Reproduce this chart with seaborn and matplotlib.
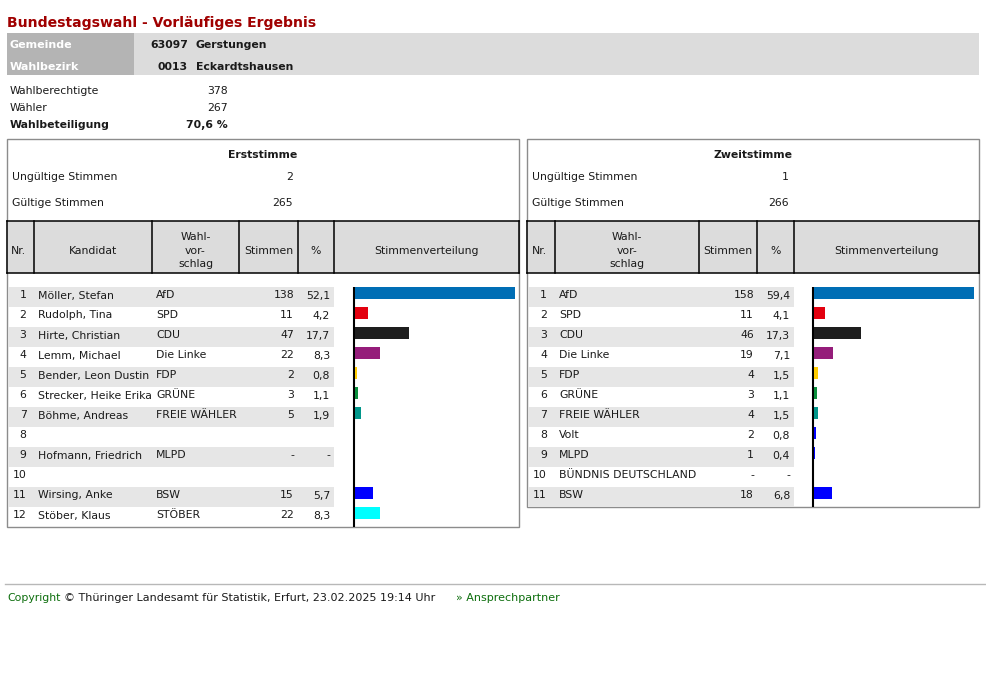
import matplotlib
matplotlib.use("Agg")
import matplotlib.pyplot as plt
from matplotlib.patches import Rectangle
import pandas as pd
import seaborn as sns

# ===== Daten =====
titel = "Bundestagswahl - Vorläufiges Ergebnis"
gemeinde_nr, gemeinde_name = "63097", "Gerstungen"
bezirk_nr, bezirk_name = "0013", "Eckardtshausen"
wahlberechtigte = 378
waehler = 267
wahlbeteiligung = 70.6

erst_ungueltig, erst_gueltig = 2, 265
zweit_ungueltig, zweit_gueltig = 1, 266

erst_kandidat = ["Möller, Stefan", "Rudolph, Tina", "Hirte, Christian", "Lemm, Michael",
                 "Bender, Leon Dustin", "Strecker, Heike Erika", "Böhme, Andreas", "",
                 "Hofmann, Friedrich", "", "Wirsing, Anke", "Stöber, Klaus"]
erst_partei = ["AfD", "SPD", "CDU", "Die Linke", "FDP", "GRÜNE", "FREIE WÄHLER", "",
               "MLPD", "", "BSW", "STÖBER"]
erst_stimmen = [138, 11, 47, 22, 2, 3, 5, None, None, None, 15, 22]
erst_prozent = [52.1, 4.2, 17.7, 8.3, 0.8, 1.1, 1.9, None, None, None, 5.7, 8.3]

zweit_partei = ["AfD", "SPD", "CDU", "Die Linke", "FDP", "GRÜNE", "FREIE WÄHLER", "Volt",
                "MLPD", "BÜNDNIS DEUTSCHLAND", "BSW"]
zweit_stimmen = [158, 11, 46, 19, 4, 3, 4, 2, 1, None, 18]
zweit_prozent = [59.4, 4.1, 17.3, 7.1, 1.5, 1.1, 1.5, 0.8, 0.4, None, 6.8]

partei_farben = {"AfD": "#006eb5", "SPD": "#e3000f", "CDU": "#1e1e1e", "Die Linke": "#951d7a",
                 "FDP": "#ffcc00", "GRÜNE": "#0a8f3c", "FREIE WÄHLER": "#00968a",
                 "Volt": "#0000ff", "MLPD": "#0000ff", "BÜNDNIS DEUTSCHLAND": "#0000ff",
                 "BSW": "#0000ff", "STÖBER": "#00ffff", "": "#ffffff"}

copyright_text = "© Thüringer Landesamt für Statistik, Erfurt, 23.02.2025 19:14 Uhr"

# ===== Layout =====
W, H = 986, 675
FS = 7.8
TXT = "#1a1a1a"
GRUEN = "#0d6e0d"

fig = plt.figure(figsize=(W / 100, H / 100), dpi=100)
bg = fig.add_axes([0, 0, 1, 1])
bg.set_xlim(0, W)
bg.set_ylim(H, 0)
bg.axis("off")


def txt(x, y, s, ha="left", bold=False, color=TXT, size=FS):
    bg.text(x, y, s, ha=ha, va="baseline", fontsize=size, color=color,
            fontweight="bold" if bold else "normal")


def rect(x0, y0, x1, y1, fc, ec="none", lw=0.0):
    bg.add_patch(Rectangle((x0, y0), x1 - x0, y1 - y0, facecolor=fc, edgecolor=ec, linewidth=lw))


def de(v, nd=1):
    return f"{v:.{nd}f}".replace(".", ",")


# Kopf
txt(7, 26.5, titel, bold=True, color="#a00000", size=10.05)
rect(7, 33, 134, 75, "#b4b4b4")
rect(134, 33, 979, 75, "#dcdcdc")
txt(10, 48.5, "Gemeinde", bold=True, color="white", size=8.0)
txt(10, 69.5, "Wahlbezirk", bold=True, color="white", size=8.0)
txt(188, 48.5, gemeinde_nr, ha="right", bold=True)
txt(196, 48.5, gemeinde_name, bold=True)
txt(188, 69.5, bezirk_nr, ha="right", bold=True)
txt(196, 69.5, bezirk_name, bold=True)

txt(10, 94.3, "Wahlberechtigte")
txt(228, 94.3, str(wahlberechtigte), ha="right")
txt(10, 111, "Wähler")
txt(228, 111, str(waehler), ha="right")
txt(10, 128.3, "Wahlbeteiligung", bold=True)
txt(228, 128.3, de(wahlbeteiligung) + " %", ha="right", bold=True)


def tabelle(x0, x1, y1, name, ungueltig, gueltig, val_x, cols, kopf, stripe_x1,
            nr_x, spalten, zeilen, line_x, prozent, parteien):
    rect(x0, 139, x1, y1, "white", ec="#8c8c8c", lw=1.0)
    txt((x0 + x1) / 2, 158, name, ha="center", bold=True)
    txt(x0 + 4.5, 180.5, "Ungültige Stimmen")
    txt(val_x, 180.5, str(ungueltig), ha="right")
    txt(x0 + 4.5, 206.5, "Gültige Stimmen")
    txt(val_x, 206.5, str(gueltig), ha="right")

    # Tabellenkopf
    rect(x0, 221, x1, 273, "#dcdcdc")
    bg.plot([x0, x1], [221, 221], color="black", lw=1.1)
    bg.plot([x0, x1], [273, 273], color="black", lw=1.1)
    for c in cols:
        bg.plot([c, c], [221, 273], color="black", lw=1.1)
    for label, x, ha in kopf:
        lines = label.split("\n")
        if len(lines) == 1:
            txt(x, 253.5, label, ha=ha)
        else:
            for k, l in enumerate(lines):
                txt(x, 240 + 13.5 * k, l, ha="center")

    # Zeilen
    for i, zeile in enumerate(zeilen):
        top = 287 + 20 * i
        if i % 2 == 0:
            rect(x0 + 0.5, top, stripe_x1, top + 20, "#e6e6e6")
        base = top + 11.5
        txt(nr_x, base, str(i + 1), ha="right")
        for (x, ha), val in zip(spalten, zeile):
            txt(x, base, val, ha=ha)

    n = len(zeilen)
    bg.plot([line_x, line_x], [287, 287 + 20 * n], color="black", lw=1.5, solid_capstyle="butt")

    # Balken (Stimmenverteilung)
    ax = fig.add_axes([(line_x + 1) / W, 1 - (287 + 20 * n) / H, 160 / W, 20 * n / H])
    ax.patch.set_alpha(0)
    df = pd.DataFrame({
        "nr": [str(k + 1) for k in range(n)],
        "prozent": [p if p is not None else 0.0 for p in prozent],
    })
    pal = {str(k + 1): partei_farben[parteien[k]] for k in range(n)}
    sns.barplot(data=df, x="prozent", y="nr", hue="nr", palette=pal, orient="h",
                order=df["nr"], width=0.6, saturation=1, linewidth=0, legend=False, ax=ax)
    ax.set_xlim(0, max(p for p in prozent if p is not None))
    ax.set_ylim(n - 0.3, -0.3)
    ax.axis("off")


def zeilen_erst():
    out = []
    for k, p, s, pr in zip(erst_kandidat, erst_partei, erst_stimmen, erst_prozent):
        if p == "":
            out.append(["", "", "", ""])
        elif s is None:
            out.append([k, p, "-", "-"])
        else:
            out.append([k, p, str(s), de(pr)])
    return out


def zeilen_zweit():
    out = []
    for p, s, pr in zip(zweit_partei, zweit_stimmen, zweit_prozent):
        if s is None:
            out.append([p, "-", "-"])
        else:
            out.append([p, str(s), de(pr)])
    return out


tabelle(7, 519, 527, "Erststimme", erst_ungueltig, erst_gueltig, 293,
        [7, 34, 152, 239, 298, 334, 519],
        [("Nr.", 11, "left"), ("Kandidat", 93, "center"), ("Wahl-\nvor-\nschlag", 195.5, "center"),
         ("Stimmen", 268.5, "center"), ("%", 316, "center"), ("Stimmenverteilung", 426.5, "center")],
        334, 26.5, [(37.5, "left"), (156, "left"), (294, "right"), (330, "right")],
        zeilen_erst(), 354, erst_prozent, erst_partei)

tabelle(527, 979, 507, "Zweitstimme", zweit_ungueltig, zweit_gueltig, 789,
        [527, 555, 699, 757, 794, 979],
        [("Nr.", 532, "left"), ("Wahl-\nvor-\nschlag", 627, "center"), ("Stimmen", 728, "center"),
         ("%", 775.5, "center"), ("Stimmenverteilung", 886.5, "center")],
        794, 547, [(559, "left"), (754, "right"), (790, "right")],
        zeilen_zweit(), 813, zweit_prozent, zweit_partei)

# Fußzeile
bg.plot([5, W], [584, 584], color="#b8b8b8", lw=1.0)
txt(7, 601, "Copyright", color=GRUEN)
txt(63.5, 601, copyright_text, size=8.05)
txt(456, 601, "» Ansprechpartner", color=GRUEN, size=8.05)

fig.savefig("out.png", dpi=100)
